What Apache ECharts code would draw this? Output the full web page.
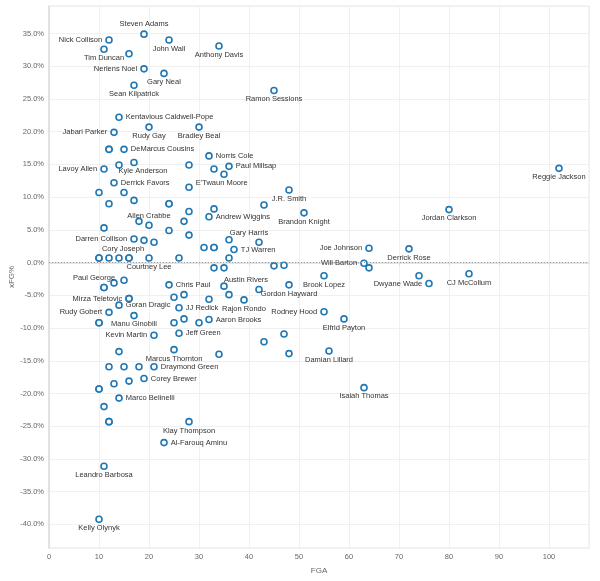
<!DOCTYPE html>
<html>
<head>
<meta charset="utf-8">
<script src="https://cdn.jsdelivr.net/npm/echarts@6/dist/echarts.min.js"></script>
<style>
  html, body { margin: 0; padding: 0; background: #fff; }
  #main { width: 600px; height: 581px; }
</style>
</head>
<body>
<div id="main"></div>
<script>
// FGA per player (x) and xFG% (y, in percent); empty name = unlabeled mark
const fga = [
  19, 12, 24, 34, 11, 19, 23, 17, 45, 14, 13, 20, 30,
  15, 32, 36, 11, 17, 13, 28, 102, 48, 80, 20, 32, 51,
  42, 17, 37, 64, 72, 14, 63, 20, 42, 11, 24, 55, 76, 84, 48,
  16, 14, 26, 39, 12, 55, 17, 32, 59, 21, 26, 25, 56, 21, 19, 63, 14, 28, 23, 11, 10,
  // unlabeled
  16, 12, 12, 14, 28, 33, 35, 10, 15, 12, 17, 24, 24, 43, 28, 33, 18, 27, 11, 24, 28,
  36, 19, 21, 31, 33, 33, 10, 10, 12, 16, 16, 26, 36, 33, 35, 45, 47, 64, 74, 13, 15,
  35, 25, 27, 32, 36, 27, 30, 25, 10, 10, 47, 43, 48, 34, 14, 12, 15, 18, 16, 13, 10, 10,
  11, 12, 12, 16, 11
];
const xfg = [
  34.9, 34.0, 34.0, 33.1, 32.6, 29.6, 28.9, 27.1, 26.3, 22.2, 19.9, 20.7, 20.7,
  17.3, 16.3, 14.7, 14.3, 15.3, 12.2, 11.5, 14.4, 11.1, 8.1, 5.7, 7.0, 7.6,
  3.1, 3.6, 2.0, 2.2, 2.1, 0.7, -0.1, 0.7, -4.1, -3.8, -3.4, -2.0, -3.2, -1.7, -3.4,
  -5.5, -6.5, -6.9, -5.7, -7.6, -7.5, -8.1, -8.7, -8.6, -11.1, -10.8, -13.3, -13.5, -15.9, -17.7, -19.1, -20.7, -24.3, -27.5, -31.1, -39.2,
  // unlabeled
  31.9, 17.3, 17.3, 14.9, 14.9, 14.3, 13.5, 10.7, 10.7, 9.0, 9.5, 9.0, 9.0, 8.8, 7.8, 8.2, 6.3, 6.3, 5.3, 4.9, 4.2,
  3.5, 3.4, 3.1, 2.3, 2.3, 2.3, 0.7, 0.7, 0.7, 0.7, 0.7, 0.7, 0.7, -0.8, -0.8, -0.5, -0.4, -0.8, -2.0, -3.1, -2.7,
  -3.6, -5.3, -4.9, -5.6, -4.9, -8.6, -9.2, -9.2, -9.2, -9.2, -10.9, -12.1, -13.9, -14.0, -13.6, -15.9, -15.9, -15.9, -18.1, -18.5, -19.3, -19.3,
  -22.0, -24.3, -24.3, -5.5, -3.8
];
const names = [
  "Steven Adams", "Nick Collison", "John Wall", "Anthony Davis", "Tim Duncan", "Nerlens Noel", "Gary Neal",
  "Sean Kilpatrick", "Ramon Sessions", "Kentavious Caldwell-Pope", "Jabari Parker", "Rudy Gay", "Bradley Beal",
  "DeMarcus Cousins", "Norris Cole", "Paul Millsap", "Lavoy Allen", "Kyle Anderson", "Derrick Favors",
  "E'Twaun Moore", "Reggie Jackson", "J.R. Smith", "Jordan Clarkson", "Allen Crabbe", "Andrew Wiggins",
  "Brandon Knight", "Gary Harris", "Darren Collison", "TJ Warren", "Joe Johnson", "Derrick Rose",
  "Cory Joseph", "Will Barton", "Courtney Lee", "Austin Rivers", "Paul George", "Chris Paul", "Brook Lopez",
  "Dwyane Wade", "CJ McCollum", "Gordon Hayward", "Mirza Teletovic", "Goran Dragic", "JJ Redick",
  "Rajon Rondo", "Rudy Gobert", "Rodney Hood", "Manu Ginobili", "Aaron Brooks", "Elfrid Payton",
  "Kevin Martin", "Jeff Green", "Marcus Thornton", "Damian Lillard", "Draymond Green", "Corey Brewer",
  "Isaiah Thomas", "Marco Belinelli", "Klay Thompson", "Al-Farouq Aminu", "Leandro Barbosa", "Kelly Olynyk"
];

// label placement (style only)
const leftSide = ["Nick Collison", "Nerlens Noel", "Jabari Parker", "Lavoy Allen", "Darren Collison",
  "Joe Johnson", "Will Barton", "Dwyane Wade", "Mirza Teletovic", "Rudy Gobert", "Rodney Hood", "Kevin Martin"];
const rightSide = ["Kentavious Caldwell-Pope", "DeMarcus Cousins", "Norris Cole", "Paul Millsap", "Derrick Favors",
  "E'Twaun Moore", "Andrew Wiggins", "TJ Warren", "Chris Paul", "Goran Dragic", "JJ Redick", "Aaron Brooks",
  "Jeff Green", "Draymond Green", "Corey Brewer", "Marco Belinelli", "Al-Farouq Aminu"];
const topSide = ["Steven Adams", "Allen Crabbe", "Gary Harris", "Cory Joseph", "Austin Rivers", "Paul George"];
const labelShift = {
  "Kyle Anderson": [9, 0], "E'Twaun Moore": [0, -4], "Gary Harris": [-10, 0],
  "Cory Joseph": [4, 1], "Austin Rivers": [-13, 0], "Paul George": [-10, 0]
};

function placement(name) {
  if (leftSide.includes(name)) return { position: "left", distance: 3 };
  if (rightSide.includes(name)) return { position: "right", distance: 3 };
  if (topSide.includes(name)) return { position: "top", distance: 2 };
  return { position: "bottom", distance: 1 };
}

const points = fga.map((x, i) => {
  const name = names[i] || "";
  const item = { value: [x, xfg[i]], name: name };
  if (name) {
    const p = placement(name);
    item.label = {
      show: true,
      position: p.position,
      distance: p.distance,
      offset: labelShift[name] || [0, 0],
      formatter: name
    };
  }
  return item;
});

const chart = echarts.init(document.getElementById("main"));
const axisFont = { color: "#666", fontSize: 7.5, fontFamily: "Liberation Sans, Arial, sans-serif" };

chart.setOption({
  animation: false,
  grid: {
    left: 49, right: 11, top: 6, bottom: 33,
    outerBoundsMode: "none",
    containLabel: false,
    show: true, borderColor: "#e6e6e6", borderWidth: 1
  },
  xAxis: {
    type: "value",
    min: 0, max: 108, interval: 10,
    name: "FGA",
    nameLocation: "middle",
    nameGap: 19,
    nameMoveOverlap: false,
    nameTextStyle: { color: "#666", fontSize: 8, fontFamily: "Liberation Sans, Arial, sans-serif" },
    axisLine: { show: true, lineStyle: { color: "#dcdcdc", width: 1.5 } },
    axisTick: { show: true, length: 3, lineStyle: { color: "#dcdcdc" } },
    axisLabel: Object.assign({ margin: 5, showMaxLabel: false }, axisFont),
    splitLine: { show: true, lineStyle: { color: "#f0f0f0" } }
  },
  yAxis: {
    type: "value",
    min: -43.6, max: 39.2, splitNumber: 16,
    name: "xFG%",
    nameLocation: "middle",
    nameGap: 33,
    nameRotate: 90,
    nameMoveOverlap: false,
    nameTextStyle: { color: "#666", fontSize: 8, fontFamily: "Liberation Sans, Arial, sans-serif" },
    axisLine: { show: true, lineStyle: { color: "#dcdcdc", width: 1.5 } },
    axisTick: { show: false },
    axisLabel: Object.assign({
      margin: 5, showMinLabel: false, showMaxLabel: false,
      formatter: (v) => (Math.abs(v % 5) > 0.01 ? "" : v.toFixed(1) + "%")
    }, axisFont),
    splitLine: { show: true, lineStyle: { color: "#f0f0f0" } }
  },
  series: [{
    type: "scatter",
    data: points,
    symbol: "circle",
    symbolSize: 6,
    itemStyle: { color: "#fff", borderColor: "#1f77b4", borderWidth: 1.6, opacity: 1 },
    label: {
      show: false,
      color: "#333",
      fontSize: 7.5,
      fontFamily: "Liberation Sans, Arial, sans-serif"
    },
    emphasis: { disabled: true },
    markLine: {
      silent: true,
      symbol: "none",
      label: { show: false },
      lineStyle: { type: [1, 2], color: "#999", width: 1 },
      data: [{ yAxis: 0 }]
    }
  }]
});
</script>
</body>
</html>
